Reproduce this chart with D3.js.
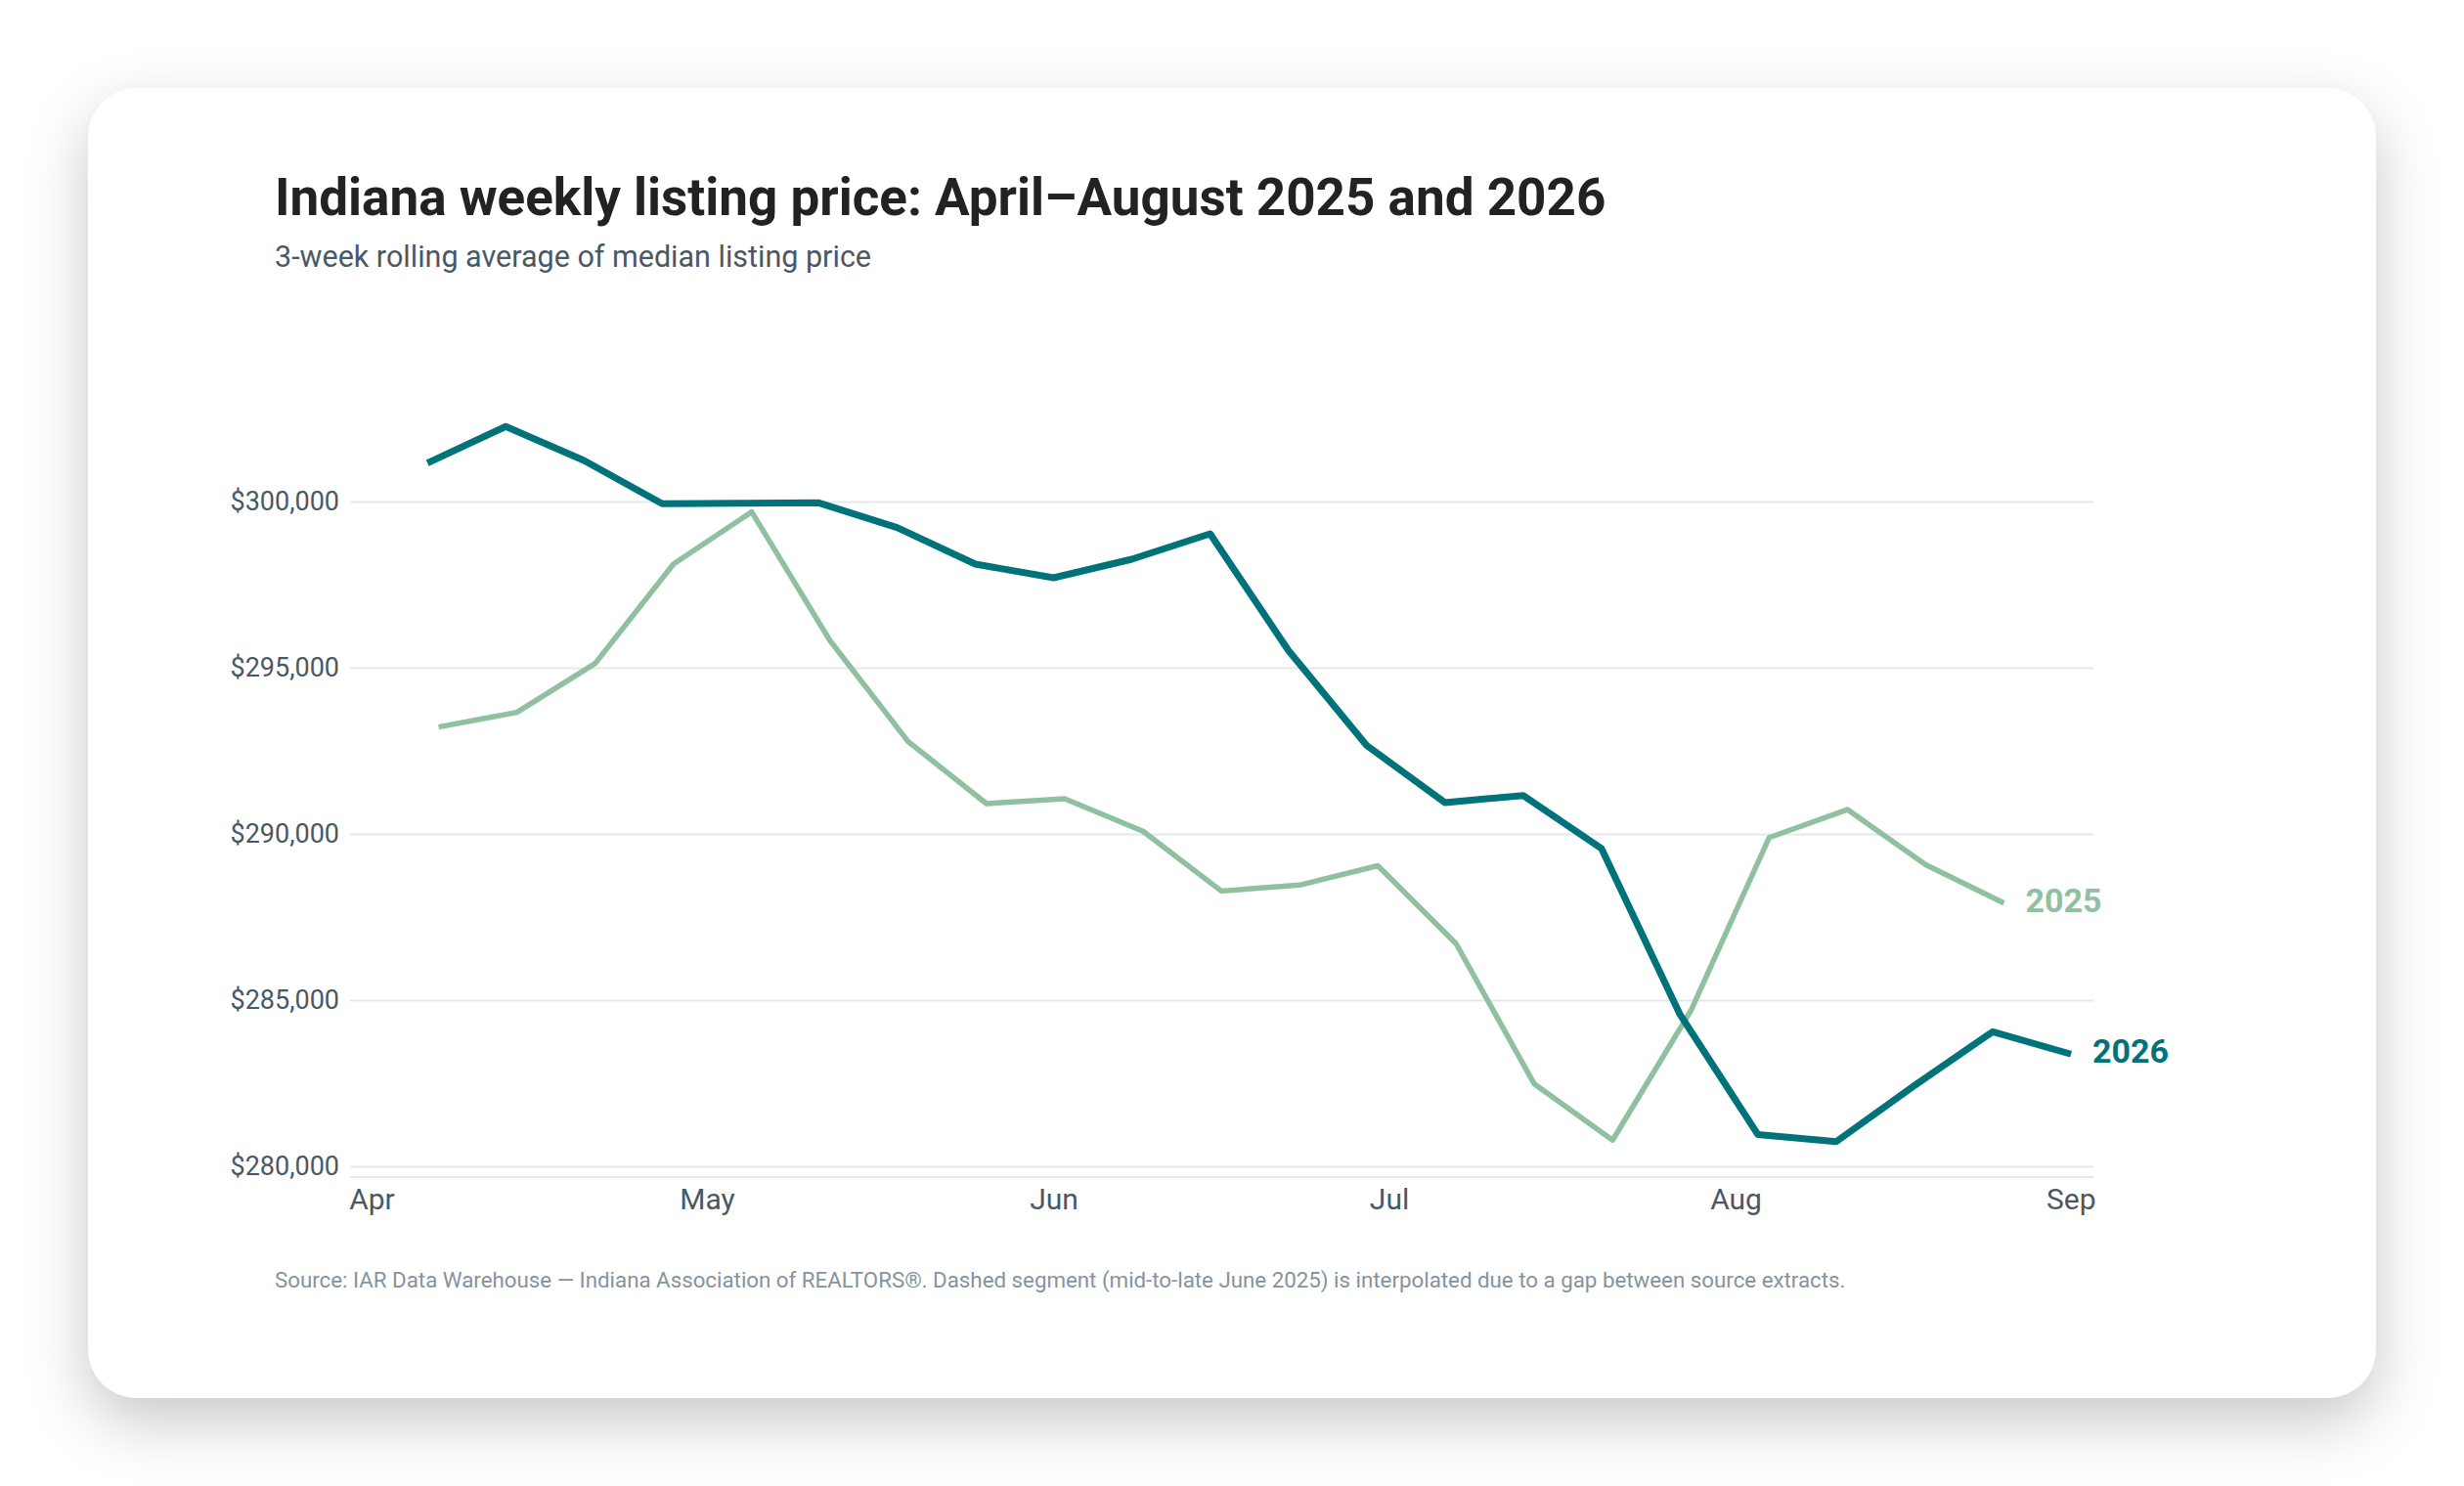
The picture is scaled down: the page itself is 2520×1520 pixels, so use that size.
<!DOCTYPE html>
<html>
<head>
<meta charset="utf-8">
<script src="https://cdn.jsdelivr.net/npm/d3@7"></script>
<style>
  body { margin: 0; background: #ffffff; font-family: Roboto, "Noto Sans", sans-serif; }
  .card {
    position: absolute; left: 90px; top: 90px; width: 2340px; height: 1340px;
    background: #fff; border-radius: 50px;
    box-shadow: 0 24px 64px rgba(0, 0, 0, 0.22);
  }
  svg { position: absolute; left: 0; top: 0; }
</style>
</head>
<body>
<div class="card"></div>
<svg width="2520" height="1520"></svg>
<script>
// weekly points, 3-week rolling average of median listing price
var weeks2026 = ['2026-04-06', '2026-04-13', '2026-04-20', '2026-04-27', '2026-05-04', '2026-05-11',
  '2026-05-18', '2026-05-25', '2026-06-01', '2026-06-08', '2026-06-15', '2026-06-22', '2026-06-29',
  '2026-07-06', '2026-07-13', '2026-07-20', '2026-07-27', '2026-08-03', '2026-08-10', '2026-08-17',
  '2026-08-24', '2026-08-31'];
var price2026 = [301159, 302256, 301235, 299932, 299950, 299960, 299218, 298118, 297706, 298265,
  299030, 295521, 292662, 290944, 291156, 289565, 284586, 280954, 280742, 282430, 284051, 283375];

var weeks2025 = ['2025-04-07', '2025-04-14', '2025-04-21', '2025-04-28', '2025-05-05', '2025-05-12',
  '2025-05-19', '2025-05-26', '2025-06-02', '2025-06-09', '2025-06-16', '2025-06-23', '2025-06-30',
  '2025-07-07', '2025-07-14', '2025-07-21', '2025-07-28', '2025-08-04', '2025-08-11', '2025-08-18',
  '2025-08-25'];
var price2025 = [293218, 293659, 295130, 298118, 299688, 295815, 292777, 290912, 291059, 290080,
  288283, 288460, 289045, 286698, 282475, 280787, 284683, 289889, 290733, 289074, 287921];

var monthTicks = ['2026-04-01', '2026-05-01', '2026-06-01', '2026-07-01', '2026-08-01', '2026-09-01'];
var yTicks = [280000, 285000, 290000, 295000, 300000];

var parse = d3.timeParse('%Y-%m-%d');

// 2025 is drawn on the same month/day axis as 2026
var series = [
  {name: '2025', color: '#8fc09f', width: 5.5,
   points: weeks2025.map(function(w, i) { return {date: d3.timeYear.offset(parse(w), 1), value: price2025[i]}; })},
  {name: '2026', color: '#00737a', width: 7,
   points: weeks2026.map(function(w, i) { return {date: parse(w), value: price2026[i]}; })}
];

var svg = d3.select('svg');
var left = 358, right = 2141, bottom = 1204;

var x = d3.scaleTime()
  .domain([parse('2026-04-01'), parse('2026-09-01')])
  .range([380, 2129.5]);

var y = d3.scaleLinear()
  .domain([280000, 300000])
  .range([1193, 513]);

// title + subtitle
svg.append('text')
  .attr('x', 281).attr('y', 220)
  .attr('font-size', 53).attr('font-weight', 700)
  .attr('fill', '#222222')
  .text('Indiana weekly listing price: April\u2013August 2025 and 2026');

svg.append('text')
  .attr('x', 281).attr('y', 273)
  .attr('font-size', 30.5)
  .attr('fill', '#4a5866')
  .text('3-week rolling average of median listing price');

// y axis with gridlines
var yAxis = svg.append('g')
  .attr('transform', 'translate(' + left + ',0)')
  .call(d3.axisLeft(y)
    .tickValues(yTicks)
    .tickSize(-(right - left))
    .tickPadding(11)
    .tickFormat(d3.format('$,')));
yAxis.select('.domain').remove();
yAxis.selectAll('line').attr('stroke', '#e4e8ec').attr('stroke-width', 2);
yAxis.selectAll('text')
  .attr('font-family', 'Roboto')
  .attr('font-size', 27)
  .attr('fill', '#4a5866');

// baseline
svg.append('line')
  .attr('x1', left).attr('x2', right)
  .attr('y1', bottom).attr('y2', bottom)
  .attr('stroke', '#e4e8ec').attr('stroke-width', 2);

// x axis
var monthDates = monthTicks.map(parse);
var xAxis = svg.append('g')
  .attr('transform', 'translate(0,' + bottom + ')')
  .call(d3.axisBottom(x)
    .tickValues(monthDates)
    .tickSize(0)
    .tickPadding(12)
    .tickFormat(d3.timeFormat('%b')));
xAxis.select('.domain').remove();
xAxis.selectAll('text')
  .attr('font-family', 'Roboto')
  .attr('font-size', 30)
  .attr('fill', '#4a5866');
// keep the last label inside the plot
xAxis.selectAll('.tick').filter(function(d, i) { return i == monthDates.length - 1; })
  .select('text')
  .attr('text-anchor', 'end')
  .attr('x', right + 2 - x(monthDates[monthDates.length - 1]));

var line = d3.line()
  .x(function(d) { return x(d.date); })
  .y(function(d) { return y(d.value); });

svg.selectAll('path.series')
  .data(series)
  .enter()
  .append('path')
  .attr('class', 'series')
  .attr('d', function(d) { return line(d.points); })
  .attr('fill', 'none')
  .attr('stroke', function(d) { return d.color; })
  .attr('stroke-width', function(d) { return d.width; })
  .attr('stroke-linejoin', 'round');

// end labels
svg.selectAll('text.end-label')
  .data(series)
  .enter()
  .append('text')
  .attr('class', 'end-label')
  .attr('x', function(d) { return x(d.points[d.points.length - 1].date) + 22; })
  .attr('y', function(d) { return y(d.points[d.points.length - 1].value) - 3; })
  .attr('dy', '0.35em')
  .attr('font-size', 34).attr('font-weight', 700)
  .attr('fill', function(d) { return d.color; })
  .text(function(d) { return d.name; });

// source note
svg.append('text')
  .attr('x', 281).attr('y', 1317)
  .attr('font-size', 22.3)
  .attr('fill', '#8593a0')
  .text('Source: IAR Data Warehouse \u2014 Indiana Association of REALTORS\u00ae. Dashed segment (mid-to-late June 2025) is interpolated due to a gap between source extracts.');
</script>
</body>
</html>
